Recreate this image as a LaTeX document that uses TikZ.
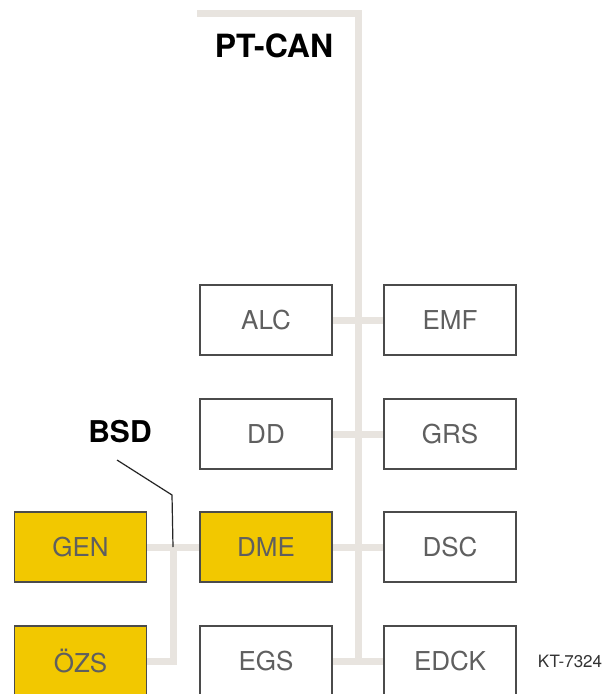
\documentclass[tikz,border=0pt]{standalone}
\usepackage{fontspec}
\setmainfont{TeX Gyre Heros}
\usetikzlibrary{backgrounds}
\definecolor{busgray}{RGB}{232,228,223}
\definecolor{boxyellow}{RGB}{242,200,0}
\definecolor{labelgray}{RGB}{95,95,95}
\definecolor{bordergray}{RGB}{75,75,75}
\begin{document}
\begin{tikzpicture}[x=1pt,y=-1pt,
  ecu/.style={draw=bordergray, line width=1.3pt, minimum width=132pt, minimum height=70pt,
    inner sep=0pt, outer sep=0pt, font=\fontsize{26}{26}\selectfont, text=labelgray},
  ecuy/.style={ecu, fill=boxyellow},
  ecuw/.style={ecu, fill=white},
  bus/.style={draw=busgray, line width=7pt},
  title/.style={font=\fontsize{30}{30}\selectfont\bfseries, text=black, inner sep=0pt},
  leader/.style={draw=black!85, line width=1.2pt}]
\useasboundingbox (0,0) rectangle (605,694);
\clip (0,0) rectangle (605,694);

% nodes
\node[ecuw] (ALC) at (266,320) {ALC};
\node[ecuw] (EMF) at (450,320) {EMF};
\node[ecuw] (DD) at (266,434) {DD};
\node[ecuw] (GRS) at (450,434) {GRS};
\node[ecuy] (GEN) at (80.5,547) {GEN};
\node[ecuy] (DME) at (266,547) {DME};
\node[ecuw] (DSC) at (450,547) {DSC};
\node[ecuy] (OZS) at (80.5,661) {ÖZS};
\node[ecuw] (EGS) at (266,661) {EGS};
\node[ecuw] (EDCK) at (450,661) {EDCK};

\node[title, font=\fontsize{32}{32}\selectfont\bfseries] (ptcan) at (274,46) {PT-CAN};
\node[title] (bsdlabel) at (120,432) {BSD};
\node[font=\fontsize{17}{17}\selectfont, text=black!80, inner sep=0pt] (kt) at (570,661) {KT-7324};

% bus coordinates
\coordinate (ptstart) at (197,13);
\coordinate (ptcorner) at (358,13);
\coordinate (bsdtop) at (173,547);
\coordinate (lead1) at (117,460);
\coordinate (lead2) at (172,495);

\begin{scope}[on background layer]
  \fill[white] (0,0) rectangle (605,694);
  % PT-CAN bus
  \draw[bus] (ptstart) -- (ptcorner) -- (ptcorner |- EGS.east);
  \draw[bus] (ALC.east) -- (EMF.west);
  \draw[bus] (DD.east) -- (GRS.west);
  \draw[bus] (DME.east) -- (DSC.west);
  \draw[bus] (EGS.east) -- (EDCK.west);
  % BSD bus
  \draw[bus] (GEN.east) -- (DME.west);
  \draw[bus] (bsdtop) |- (OZS.east);
\end{scope}
% BSD leader
\draw[leader] (lead1) -- (lead2) -- (bsdtop);
\end{tikzpicture}
\end{document}
